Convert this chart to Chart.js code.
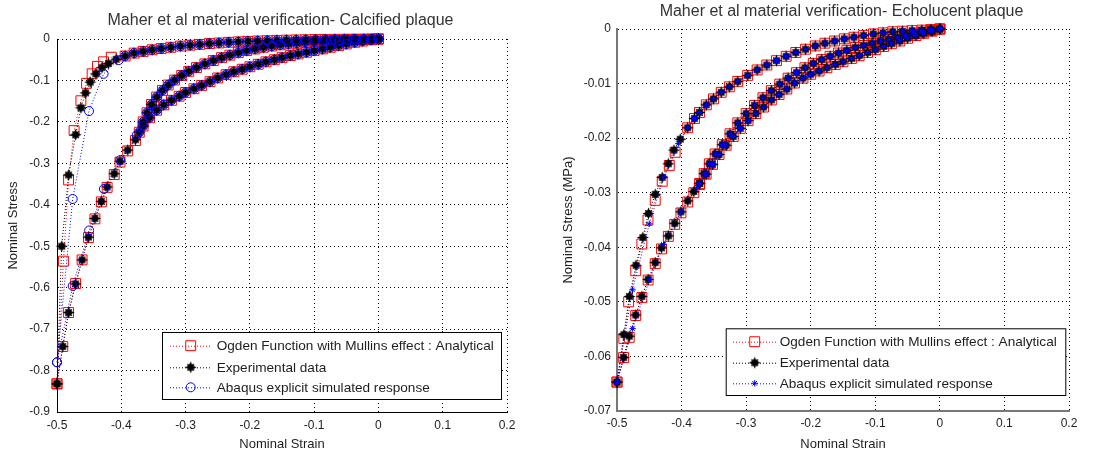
<!DOCTYPE html>
<html><head><meta charset="utf-8">
<script src="https://cdn.jsdelivr.net/npm/chart.js@4.4.1/dist/chart.umd.min.js"></script>
<style>
html,body{margin:0;padding:0;background:#fff;}
#wrap{position:relative;width:1118px;height:456px;overflow:hidden;background:#fff;}
canvas{position:absolute;top:0;}
#c1{left:0;} #c2{left:559px;}
</style></head><body>
<div id="wrap"><canvas id="c1" width="559" height="456"></canvas><canvas id="c2" width="559" height="456"></canvas></div>
<script>
// ---------- tick labels / texts ----------
const xTicks = [-0.5,-0.4,-0.3,-0.2,-0.1,0,0.1,0.2];
const calcYTicks = [-0.9,-0.8,-0.7,-0.6,-0.5,-0.4,-0.3,-0.2,-0.1,0];
const echoYTicks = [-0.07,-0.06,-0.05,-0.04,-0.03,-0.02,-0.01,0];
const seriesNames = ['Ogden Function with Mullins effect : Analytical','Experimental data','Abaqus explicit simulated response'];
const calcTitle = 'Maher et al material verification- Calcified plaque';
const echoTitle = 'Maher et al material verification- Echolucent plaque';

// ---------- Calcified plaque: [strain, stress] ----------
const calcLoadCommon = [[0,0],[-0.012,-0.002],[-0.025,-0.005],[-0.037,-0.008],[-0.05,-0.012],[-0.062,-0.016],[-0.075,-0.02],[-0.087,-0.024],[-0.1,-0.028],[-0.112,-0.032],[-0.125,-0.036],[-0.137,-0.04],[-0.15,-0.045],[-0.162,-0.05],[-0.175,-0.055],[-0.187,-0.061],[-0.2,-0.067],[-0.212,-0.073],[-0.225,-0.079],[-0.237,-0.086],[-0.25,-0.094],[-0.262,-0.103],[-0.275,-0.112],[-0.287,-0.12],[-0.3,-0.129],[-0.31,-0.138],[-0.322,-0.148],[-0.334,-0.159],[-0.345,-0.172],[-0.356,-0.19],[-0.366,-0.21]];
const calcLoadExpTail = [[-0.378,-0.243],[-0.39,-0.268],[-0.402,-0.295],[-0.411,-0.325],[-0.422,-0.357],[-0.431,-0.392],[-0.441,-0.433],[-0.451,-0.478],[-0.461,-0.533],[-0.471,-0.591],[-0.482,-0.66],[-0.491,-0.742],[-0.5,-0.832]];
const calcLoadOgdenTail = [[-0.378,-0.245],[-0.39,-0.27],[-0.402,-0.297],[-0.411,-0.327],[-0.422,-0.358],[-0.431,-0.393],[-0.441,-0.434],[-0.451,-0.479],[-0.461,-0.533],[-0.471,-0.59],[-0.482,-0.66],[-0.491,-0.742],[-0.5,-0.832]];
const calcLoadAbaqusTail = [[-0.376,-0.232],[-0.4015,-0.292],[-0.427,-0.362],[-0.45,-0.462],[-0.4756,-0.596],[-0.5,-0.78]];
const calcInnerCommon = [[-0.372,-0.225],[-0.366,-0.2],[-0.36,-0.178],[-0.353,-0.158],[-0.345,-0.14],[-0.336,-0.124],[-0.327,-0.111],[-0.317,-0.099],[-0.306,-0.088],[-0.295,-0.078],[-0.283,-0.069],[-0.27,-0.06],[-0.257,-0.052],[-0.244,-0.045],[-0.231,-0.039],[-0.218,-0.033],[-0.205,-0.028],[-0.192,-0.024],[-0.179,-0.02],[-0.166,-0.017],[-0.153,-0.014],[-0.14,-0.012],[-0.127,-0.01],[-0.114,-0.008],[-0.1,-0.006],[-0.087,-0.005],[-0.074,-0.004],[-0.061,-0.003],[-0.048,-0.002],[-0.035,-0.0015],[-0.022,-0.001],[-0.01,-0.0005],[0,0]];
const calcUnloadExpHead = [[-0.5,-0.832],[-0.4927,-0.5],[-0.482,-0.328],[-0.471,-0.231],[-0.4628,-0.166],[-0.4556,-0.13],[-0.4483,-0.104],[-0.4396,-0.084],[-0.43,-0.069],[-0.42,-0.059],[-0.408,-0.049]];
const calcUnloadOgdenHead = [[-0.5,-0.832],[-0.49,-0.536],[-0.482,-0.34],[-0.4734,-0.221],[-0.4628,-0.149],[-0.454,-0.107],[-0.4454,-0.084],[-0.437,-0.066],[-0.4275,-0.055],[-0.4155,-0.044]];
const calcUnloadAbaqusHead = [[-0.5,-0.78],[-0.4756,-0.386],[-0.4502,-0.174],[-0.4275,-0.084],[-0.404,-0.051]];
const calcUnloadCommon = [[-0.394,-0.041],[-0.38,-0.034],[-0.366,-0.03],[-0.352,-0.026],[-0.338,-0.023],[-0.323,-0.02],[-0.308,-0.017],[-0.293,-0.015],[-0.278,-0.013],[-0.263,-0.011],[-0.248,-0.0095],[-0.233,-0.008],[-0.218,-0.0068],[-0.203,-0.0057],[-0.188,-0.0048],[-0.173,-0.004],[-0.158,-0.0033],[-0.143,-0.0027],[-0.128,-0.0022],[-0.113,-0.0017],[-0.098,-0.0013],[-0.083,-0.001],[-0.068,-0.0007],[-0.053,-0.0005],[-0.038,-0.0003],[-0.023,-0.0002],[-0.01,-0.0001],[0,0]];

// ---------- Echolucent plaque: [strain, stress MPa] ----------
const echoLoadCommon = [[0,0],[-0.012,-0.0004],[-0.025,-0.0008],[-0.037,-0.0012],[-0.05,-0.0017],[-0.062,-0.0022],[-0.075,-0.0027],[-0.087,-0.0032],[-0.1,-0.0038],[-0.112,-0.0043],[-0.125,-0.0049],[-0.137,-0.0054],[-0.15,-0.006],[-0.162,-0.0065],[-0.175,-0.0071],[-0.187,-0.0077],[-0.2,-0.0083],[-0.212,-0.009],[-0.225,-0.0099],[-0.237,-0.011],[-0.249,-0.012],[-0.261,-0.013],[-0.273,-0.0143],[-0.285,-0.0155],[-0.297,-0.0168],[-0.309,-0.0182],[-0.32,-0.0197],[-0.331,-0.0213],[-0.342,-0.023],[-0.352,-0.0248],[-0.362,-0.0266]];
const echoLoadExpTail = [[-0.372,-0.0283],[-0.381,-0.0298],[-0.3905,-0.0315],[-0.401,-0.0335],[-0.4106,-0.0356],[-0.4205,-0.0379],[-0.431,-0.0401],[-0.4408,-0.0428],[-0.4518,-0.0459],[-0.4615,-0.049],[-0.471,-0.0524],[-0.481,-0.0563],[-0.4897,-0.0602],[-0.5,-0.0647]];
const echoLoadOgdenTail = [[-0.372,-0.0285],[-0.381,-0.03],[-0.3905,-0.0317],[-0.401,-0.0337],[-0.4106,-0.0358],[-0.4205,-0.038],[-0.431,-0.0403],[-0.4408,-0.043],[-0.4518,-0.046],[-0.4615,-0.0492],[-0.471,-0.0525],[-0.481,-0.0565],[-0.4897,-0.0602],[-0.5,-0.0647]];
const echoLoadAbaqusTail = [[-0.376,-0.029],[-0.401,-0.0335],[-0.428,-0.0395],[-0.4494,-0.0459],[-0.4758,-0.0549],[-0.5,-0.0647]];
const echoInnerCommon = [[-0.372,-0.0283],[-0.365,-0.0265],[-0.357,-0.0247],[-0.348,-0.0229],[-0.337,-0.0212],[-0.325,-0.0192],[-0.313,-0.0172],[-0.3,-0.0155],[-0.287,-0.014],[-0.274,-0.0126],[-0.261,-0.0113],[-0.248,-0.0101],[-0.235,-0.009],[-0.222,-0.008],[-0.209,-0.0071],[-0.196,-0.0063],[-0.183,-0.0056],[-0.17,-0.005],[-0.157,-0.0044],[-0.144,-0.0039],[-0.131,-0.0034],[-0.118,-0.003],[-0.105,-0.0026],[-0.092,-0.0022],[-0.079,-0.0019],[-0.066,-0.0015],[-0.053,-0.0012],[-0.04,-0.0009],[-0.027,-0.0006],[-0.014,-0.0003],[0,0]];
const echoUnloadExpHead = [[-0.5,-0.0647],[-0.4894,-0.056],[-0.4807,-0.049],[-0.4705,-0.0433],[-0.46,-0.0382],[-0.4513,-0.0338],[-0.4408,-0.0303],[-0.43,-0.0272],[-0.4205,-0.0247],[-0.4118,-0.0222],[-0.402,-0.0202]];
const echoUnloadOgdenHead = [[-0.5,-0.0647],[-0.4894,-0.0567],[-0.482,-0.05],[-0.471,-0.0443],[-0.4615,-0.0394],[-0.452,-0.035],[-0.4408,-0.0314],[-0.43,-0.0279],[-0.419,-0.025],[-0.41,-0.0226]];
const echoUnloadAbaqusHead = [[-0.5,-0.0647],[-0.476,-0.0478],[-0.45,-0.0357],[-0.4275,-0.0271],[-0.405,-0.021]];
const echoUnloadCommon = [[-0.3906,-0.0181],[-0.38,-0.0164],[-0.3723,-0.0153],[-0.3617,-0.0139],[-0.3506,-0.0128],[-0.3386,-0.0116],[-0.326,-0.0106],[-0.313,-0.0096],[-0.2976,-0.0085],[-0.283,-0.0075],[-0.268,-0.0066],[-0.253,-0.0058],[-0.238,-0.005],[-0.223,-0.0043],[-0.208,-0.0037],[-0.193,-0.0031],[-0.178,-0.0026],[-0.163,-0.0022],[-0.148,-0.0018],[-0.133,-0.0015],[-0.118,-0.0012],[-0.103,-0.0009],[-0.088,-0.0007],[-0.073,-0.0005],[-0.058,-0.0004],[-0.043,-0.0003],[-0.028,-0.0002],[-0.014,-0.0001],[0,0]];

// ---------- helpers ----------
const FONT = "'Liberation Sans', Arial, Helvetica, sans-serif";
const TEXT = '#1e1e1e';
function branches(...list) {
  const out = [];
  list.forEach((b, i) => {
    if (i > 0) out.push({x: null, y: null});
    b.forEach(p => out.push({x: p[0], y: p[1]}));
  });
  return out;
}
function fmt(v) { const r = Math.round(v * 1000) / 1000; return r === 0 ? '0' : String(r); }

// filled star-shaped marker (like the bold black marker of the original)
function starBlob(color) {
  const size = 13;
  const c = document.createElement('canvas'); c.width = size; c.height = size;
  const g = c.getContext('2d'); const cx = size / 2, cy = size / 2;
  g.fillStyle = color; g.beginPath();
  for (let k = 0; k < 16; k++) {
    const a = -Math.PI / 2 + k * Math.PI / 8;
    const r = (k % 4 === 0) ? 6 : (k % 2 === 0 ? 5 : 3.3);
    const px = cx + r * Math.cos(a), py = cy + r * Math.sin(a);
    if (k === 0) g.moveTo(px, py); else g.lineTo(px, py);
  }
  g.closePath(); g.fill();
  return c;
}
const blackStar = starBlob('#000');

function drawMarker(ctx, m, x, y) {
  ctx.save();
  ctx.setLineDash([]);
  if (typeof m.style !== 'string') {
    ctx.drawImage(m.style, x - m.style.width / 2, y - m.style.height / 2);
    ctx.restore();
    return;
  }
  ctx.strokeStyle = m.color; ctx.lineWidth = m.bw;
  ctx.beginPath();
  if (m.style === 'rect') {
    const s = m.r * Math.SQRT1_2;
    ctx.rect(x - s, y - s, 2 * s, 2 * s);
  } else if (m.style === 'circle') {
    ctx.arc(x, y, m.r, 0, Math.PI * 2);
  } else {
    for (let k = 0; k < 4; k++) {
      const a = k * Math.PI / 4;
      ctx.moveTo(x - Math.cos(a) * m.r, y - Math.sin(a) * m.r);
      ctx.lineTo(x + Math.cos(a) * m.r, y + Math.sin(a) * m.r);
    }
  }
  ctx.stroke();
  ctx.restore();
}

const plotTitle = {
  id: 'plotTitle',
  afterDraw(chart, args, o) {
    const ctx = chart.ctx, a = chart.chartArea;
    ctx.save();
    ctx.fillStyle = '#333'; ctx.font = o.font; ctx.textAlign = 'center'; ctx.textBaseline = 'middle';
    ctx.fillText(o.text, (a.left + a.right) / 2 + o.dx, o.y);
    ctx.restore();
  }
};

const boxLegend = {
  id: 'boxLegend',
  afterDraw(chart, args, o) {
    const ctx = chart.ctx;
    ctx.save();
    ctx.fillStyle = '#fff';
    ctx.fillRect(o.x, o.y, o.w, o.h);
    ctx.strokeStyle = '#000'; ctx.lineWidth = 1; ctx.setLineDash([]);
    ctx.strokeRect(o.x + 0.5, o.y + 0.5, o.w, o.h);
    chart.data.datasets.forEach((ds, i) => {
      const ry = o.rows[i];
      ctx.save();
      ctx.strokeStyle = ds.borderColor; ctx.lineWidth = 1; ctx.setLineDash([1, 2]);
      ctx.beginPath(); ctx.moveTo(o.l0, ry + 0.5); ctx.lineTo(o.l1, ry + 0.5); ctx.stroke();
      ctx.restore();
      drawMarker(ctx, {style: ds.pointStyle, r: ds.pointRadius, bw: ds.pointBorderWidth, color: ds.pointBorderColor}, o.mx, ry);
      ctx.fillStyle = TEXT; ctx.font = o.font; ctx.textBaseline = 'middle'; ctx.textAlign = 'left';
      ctx.fillText(ds.label, o.tx, ry + 1);
    });
    ctx.restore();
  }
};

function makeChart(id, cfg) {
  const axisColor = cfg.axisColor;
  return new Chart(document.getElementById(id), {
    type: 'scatter',
    data: { datasets: cfg.datasets },
    options: {
      responsive: false, animation: false, devicePixelRatio: 1, events: [],
      layout: { padding: { top: cfg.padTop, right: cfg.padRight, bottom: 0, left: 0 } },
      plugins: {
        legend: { display: false }, tooltip: { enabled: false }, title: { display: false },
        plotTitle: { text: cfg.title, y: cfg.titleY, dx: -1.5, font: "16px " + FONT },
        boxLegend: cfg.legend
      },
      scales: {
        x: {
          type: 'linear', position: 'bottom', min: -0.5, max: 0.2,
          afterBuildTicks: s => { s.ticks = xTicks.map(v => ({ value: v })); },
          afterFit: s => { s.height = cfg.xHeight; },
          ticks: { callback: v => fmt(v), color: TEXT, font: { family: FONT, size: 12 }, padding: cfg.xTickPad, autoSkip: false, maxRotation: 0 },
          grid: { drawTicks: false, color: '#000', lineWidth: 1 },
          border: { display: true, color: axisColor, width: cfg.axisWidth, dash: [1, 3] },
          title: { display: true, text: 'Nominal Strain', color: TEXT, font: { family: FONT, size: 13 }, padding: { top: 0, bottom: 4 } }
        },
        y: {
          type: 'linear', position: 'left', min: cfg.yMin, max: 0,
          afterBuildTicks: s => { s.ticks = cfg.yTicks.map(v => ({ value: v })); },
          afterFit: s => { s.width = cfg.yWidth; },
          ticks: { callback: v => fmt(v), color: TEXT, font: { family: FONT, size: 12 }, padding: cfg.yTickPad, autoSkip: false },
          grid: { drawTicks: false, color: '#000', lineWidth: 1 },
          border: { display: true, color: axisColor, width: cfg.axisWidth, dash: [1, 3] },
          title: { display: true, text: cfg.yTitle, color: TEXT, font: { family: FONT, size: 13 }, padding: { top: cfg.yTitlePad, bottom: 0 } }
        }
      }
    },
    plugins: [plotTitle, boxLegend]
  });
}

function ds(label, data, style) {
  return Object.assign({ label, data, showLine: true, clip: false, borderWidth: 1, borderDash: [1, 2], fill: false, tension: 0 }, style);
}
const ogdenStyle = { borderColor: '#ff0000', pointStyle: 'rect', pointRadius: 7, pointBorderColor: '#ff0000', pointBackgroundColor: 'rgba(0,0,0,0)', pointBorderWidth: 1, order: 3 };
const expStyle = { borderColor: '#000000', pointStyle: blackStar, pointRadius: 5, pointBorderColor: '#000000', pointBackgroundColor: '#000000', pointBorderWidth: 1, order: 2 };
const abaqusCircle = { borderColor: '#0000ff', pointStyle: 'circle', pointRadius: 4.5, pointBorderColor: '#0000ff', pointBackgroundColor: 'rgba(0,0,0,0)', pointBorderWidth: 1, order: 1 };
const abaqusStar = { borderColor: '#0000ff', pointStyle: 'star', pointRadius: 3.2, pointBorderColor: '#0000ff', pointBackgroundColor: 'rgba(0,0,0,0)', pointBorderWidth: 1, order: 1 };

makeChart('c1', {
  title: calcTitle, titleY: 21, yTitle: 'Nominal Stress', yMin: -0.9, yTicks: calcYTicks,
  axisColor: '#000', axisWidth: 1,
  padTop: 39, padRight: 52, xHeight: 44, yWidth: 57, xTickPad: 6, yTickPad: 7, yTitlePad: 6,
  legend: { x: 162, y: 332, w: 339, h: 67, rows: [345.7, 367.3, 387.3], l0: 170, l1: 210, mx: 190.7, tx: 216.7, font: "13.6px " + FONT },
  datasets: [
    ds(seriesNames[0], branches(calcLoadCommon.concat(calcLoadOgdenTail), calcInnerCommon, calcUnloadOgdenHead.concat(calcUnloadCommon)), ogdenStyle),
    ds(seriesNames[1], branches(calcLoadCommon.concat(calcLoadExpTail), calcInnerCommon, calcUnloadExpHead.concat(calcUnloadCommon)), expStyle),
    ds(seriesNames[2], branches(calcLoadCommon.concat(calcLoadAbaqusTail), calcInnerCommon, calcUnloadAbaqusHead.concat(calcUnloadCommon)), abaqusCircle)
  ]
});

makeChart('c2', {
  title: echoTitle, titleY: 12, yTitle: 'Nominal Stress (MPa)', yMin: -0.07, yTicks: echoYTicks,
  axisColor: '#777', axisWidth: 2,
  padTop: 29, padRight: 49, xHeight: 45, yWidth: 58, xTickPad: 5, yTickPad: 6, yTitlePad: 2,
  legend: { x: 166.7, y: 328.3, w: 339.6, h: 66.7, rows: [341.7, 362.7, 383.3], l0: 174, l1: 218, mx: 195.7, tx: 220.7, font: "13.6px " + FONT },
  datasets: [
    ds(seriesNames[0], branches(echoLoadCommon.concat(echoLoadOgdenTail), echoInnerCommon, echoUnloadOgdenHead.concat(echoUnloadCommon)), ogdenStyle),
    ds(seriesNames[1], branches(echoLoadCommon.concat(echoLoadExpTail), echoInnerCommon, echoUnloadExpHead.concat(echoUnloadCommon)), expStyle),
    ds(seriesNames[2], branches(echoLoadCommon.concat(echoLoadAbaqusTail), echoInnerCommon, echoUnloadAbaqusHead.concat(echoUnloadCommon)), abaqusStar)
  ]
});
</script>
</body></html>
